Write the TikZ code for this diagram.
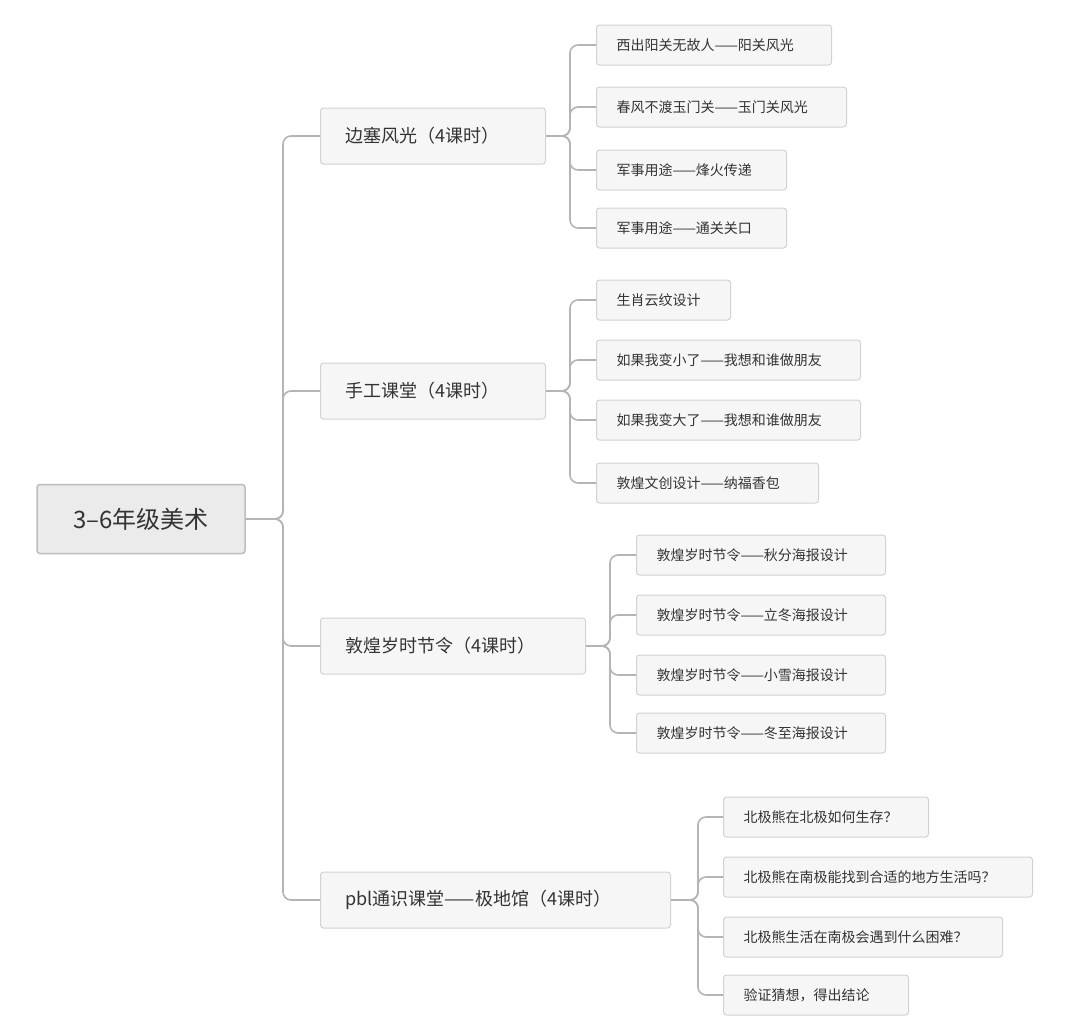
\documentclass[tikz,border=0pt]{standalone}
\usepackage{fontspec}
\setmainfont{Noto Sans CJK SC}
\begin{document}
\begin{tikzpicture}[x=1pt,y=-1pt,
  box/.style={draw=boxline,fill=boxfill,rounded corners=3pt,line width=1pt,anchor=west,align=left,text=txt,inner ysep=0pt},
  leaf/.style={box,minimum height=40pt,inner xsep=20pt,font=\fontsize{14}{16}\selectfont},
  mid/.style={box,minimum height=56pt,inner xsep=25pt,font=\fontsize{18}{20}\selectfont},
  link/.style={draw=lnk,line width=1.6pt,rounded corners=8pt}]
\definecolor{boxline}{HTML}{D2D2D2}
\definecolor{boxfill}{HTML}{F6F6F6}
\definecolor{txt}{HTML}{333333}
\definecolor{lnk}{HTML}{B4B4B4}
\definecolor{rootfill}{HTML}{EBEBEB}
\definecolor{rootline}{HTML}{BDBDBD}
\fill[white] (0,0) rectangle (1080,1029);
\useasboundingbox (0,0) rectangle (1080,1029);
\newcommand{\lf}[5]{\node[leaf,text width=#3-#2-40] (#1) at (#2,#4) {#5};}
\newcommand{\md}[5]{\node[mid,text width=#3-#2-50] (#1) at (#2,#4) {#5};}
\node[draw=rootline,fill=rootfill,line width=1.5pt,rounded corners=3pt,minimum width=208pt,minimum height=69pt,font=\fontsize{24}{28}\selectfont,text=txt] (root) at (141,519) {3–6年级美术};
\md{m1}{320}{545}{136}{边塞风光（4课时）}
\md{m2}{320}{545}{391}{手工课堂（4课时）}
\md{m3}{320}{585}{646}{敦煌岁时节令（4课时）}
\md{m4}{320}{670}{900}{pbl通识课堂——极地馆（4课时）}
\lf{a1}{596}{831}{45}{西出阳关无故人——阳关风光}
\lf{a2}{596}{846}{107}{春风不渡玉门关——玉门关风光}
\lf{a3}{596}{786}{170}{军事用途——烽火传递}
\lf{a4}{596}{786}{228}{军事用途——通关关口}
\lf{b1}{596}{730}{300}{生肖云纹设计}
\lf{b2}{596}{860}{360}{如果我变小了——我想和谁做朋友}
\lf{b3}{596}{860}{420}{如果我变大了——我想和谁做朋友}
\lf{b4}{596}{818}{483}{敦煌文创设计——纳福香包}
\lf{c1}{636}{885}{555}{敦煌岁时节令——秋分海报设计}
\lf{c2}{636}{885}{615}{敦煌岁时节令——立冬海报设计}
\lf{c3}{636}{885}{675}{敦煌岁时节令——小雪海报设计}
\lf{c4}{636}{885}{733}{敦煌岁时节令——冬至海报设计}
\lf{d1}{723}{928}{817}{北极熊在北极如何生存？}
\lf{d2}{723}{1032}{877}{北极熊在南极能找到合适的地方生活吗？}
\lf{d3}{723}{1002}{937}{北极熊生活在南极会遇到什么困难？}
\lf{d4}{723}{908}{995}{验证猜想，得出结论}
\foreach \m in {m1,m2,m3,m4}{\draw[link] (root.east) -- (283,519) |- (\m.west);}
\foreach \l in {a1,a2,a3,a4}{\draw[link] (m1.east) -- (570,136) |- (\l.west);}
\foreach \l in {b1,b2,b3,b4}{\draw[link] (m2.east) -- (570,391) |- (\l.west);}
\foreach \l in {c1,c2,c3,c4}{\draw[link] (m3.east) -- (610,646) |- (\l.west);}
\foreach \l in {d1,d2,d3,d4}{\draw[link] (m4.east) -- (698,900) |- (\l.west);}
\end{tikzpicture}
\end{document}
